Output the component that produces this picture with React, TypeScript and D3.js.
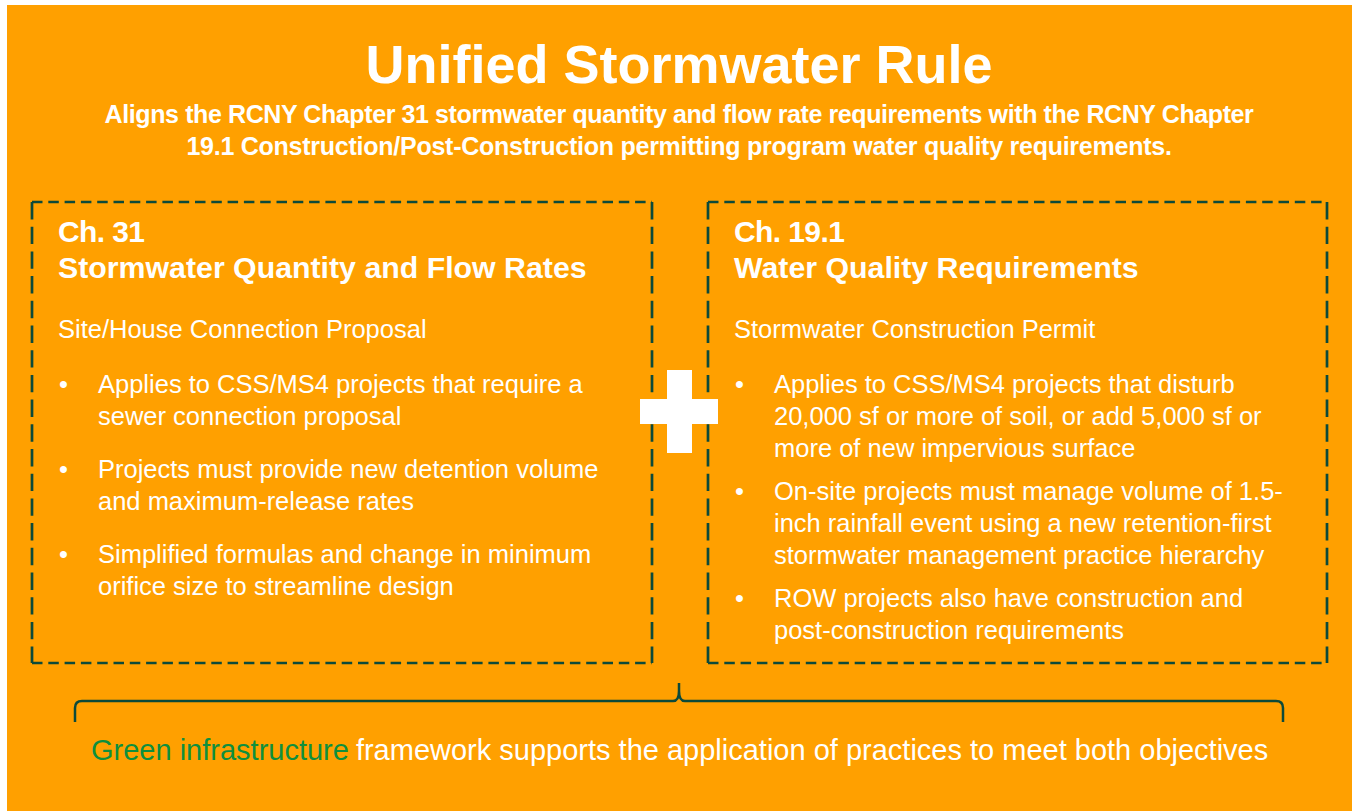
import React from "react";
import * as d3 from "d3";

// ---------- content ----------
const titleText = "Unified Stormwater Rule";
const subtitleLines = [
  "Aligns the RCNY Chapter 31 stormwater quantity and flow rate requirements with the RCNY Chapter",
  "19.1 Construction/Post-Construction permitting program water quality requirements.",
];
const leftHeading = ["Ch. 31", "Stormwater Quantity and Flow Rates"];
const leftSubhead = "Site/House Connection Proposal";
const leftBullets = [
  ["Applies to CSS/MS4 projects that require a", "sewer connection proposal"],
  ["Projects must provide new detention volume", "and maximum-release rates"],
  ["Simplified formulas and change in minimum", "orifice size to streamline design"],
];
const rightHeading = ["Ch. 19.1", "Water Quality Requirements"];
const rightSubhead = "Stormwater Construction Permit";
const rightBullets = [
  [
    "Applies to CSS/MS4 projects that disturb",
    "20,000 sf or more of soil, or add 5,000 sf or",
    "more of new impervious surface",
  ],
  [
    "On-site projects must manage volume of 1.5-",
    "inch rainfall event using a new retention-first",
    "stormwater management practice hierarchy",
  ],
  ["ROW projects also have construction and", "post-construction requirements"],
];
const footerGreen = "Green infrastructure";
const footerRest = "framework supports the application of practices to meet both objectives";

// ---------- styles ----------
const W = 1352;
const H = 811;
const ORANGE = "#FFA000";
const DARK = "#0C4A3A";
const GREEN = "#0E8F3E";
const FONT = "'Liberation Sans', Arial, Helvetica, sans-serif";

type BoxProps = {
  x0: number;
  x1: number;
  heading: string[];
  subhead: string;
  bullets: string[][];
  paraGap: number;
};

const BOX_Y0 = 202;
const BOX_Y1 = 663;
const LINE_H = 32;
const H_DASH = "10.5 5.8";
const V_DASH = "17.4 7.3";
const SW = 2.7;

function Box({ x0, x1, heading, subhead, bullets, paraGap }: BoxProps) {
  const tx = x0 + 26;
  let y = 393;
  const items: React.ReactNode[] = [];
  bullets.forEach((lines, bi) => {
    items.push(
      <text key={"b" + bi} x={tx + 1} y={y} fontSize={25.5} fill="#fff">
        •
      </text>
    );
    lines.forEach((ln, li) => {
      items.push(
        <text key={`l${bi}-${li}`} x={tx + 40} y={y + li * LINE_H} fontSize={25.5} fill="#fff">
          {ln}
        </text>
      );
    });
    y += lines.length * LINE_H + paraGap;
  });
  return (
    <g fontFamily={FONT}>
      <g fill="none" stroke={DARK} strokeWidth={SW}>
        <line x1={x0} y1={BOX_Y0} x2={x1} y2={BOX_Y0} strokeDasharray={H_DASH} />
        <line x1={x0} y1={BOX_Y1} x2={x1} y2={BOX_Y1} strokeDasharray={H_DASH} />
        <line x1={x0} y1={BOX_Y0} x2={x0} y2={BOX_Y1} strokeDasharray={V_DASH} />
        <line x1={x1} y1={BOX_Y0} x2={x1} y2={BOX_Y1} strokeDasharray={V_DASH} />
      </g>
      <text x={tx} y={242} fontSize={30} fontWeight="bold" fill="#fff" letterSpacing={-0.6}>
        {heading[0]}
      </text>
      <text x={tx} y={278} fontSize={30.3} fontWeight="bold" fill="#fff" letterSpacing={0}>
        {heading[1]}
      </text>
      <text x={tx} y={338} fontSize={25.5} fill="#fff">
        {subhead}
      </text>
      {items}
    </g>
  );
}

export default function App() {
  const cx = 679;
  const braceY = 701;
  const braceL = 75;
  const braceR = 1283;
  const braceBottom = 722;
  const braceTop = 683;
  const p = d3.path();
  p.moveTo(braceL, braceBottom);
  p.lineTo(braceL, braceY + 7);
  p.quadraticCurveTo(braceL, braceY, braceL + 7, braceY);
  p.lineTo(cx - 6, braceY);
  p.quadraticCurveTo(cx, braceY, cx, braceY - 10);
  p.lineTo(cx, braceTop);
  p.moveTo(cx, braceY - 10);
  p.quadraticCurveTo(cx, braceY, cx + 6, braceY);
  p.lineTo(braceR - 7, braceY);
  p.quadraticCurveTo(braceR, braceY, braceR, braceY + 7);
  p.lineTo(braceR, braceBottom);

  return (
    <svg
      width={W}
      height={H}
      style={{ position: "absolute", left: 0, top: 0, display: "block" }}
      xmlns="http://www.w3.org/2000/svg"
    >
      <rect x={0} y={0} width={W} height={H} fill="#fff" />
      <rect x={7} y={5} width={W - 7} height={H - 5} fill={ORANGE} />
      <g fontFamily={FONT} textAnchor="middle" fill="#fff" fontWeight="bold">
        <text x={cx} y={83} fontSize={54} letterSpacing={0}>
          {titleText}
        </text>
        <text x={cx} y={123} fontSize={25} letterSpacing={-0.4}>
          {subtitleLines[0]}
        </text>
        <text x={cx} y={155} fontSize={25} letterSpacing={-0.25}>
          {subtitleLines[1]}
        </text>
      </g>
      <Box x0={32} x1={652} heading={leftHeading} subhead={leftSubhead} bullets={leftBullets} paraGap={21} />
      <Box x0={708} x1={1327} heading={rightHeading} subhead={rightSubhead} bullets={rightBullets} paraGap={11} />
      {/* plus sign */}
      <rect x={640} y={399} width={78} height={25} fill="#fff" />
      <rect x={667} y={370} width={25} height={83} fill="#fff" />
      {/* brace */}
      <path d={p.toString()} fill="none" stroke={DARK} strokeWidth={2.5} />
      <text x={91} y={760} fontFamily={FONT} fontSize={29} fill={GREEN}>
        <tspan>{footerGreen}</tspan>
        <tspan fill="#fff" dx={7}>{footerRest}</tspan>
      </text>
    </svg>
  );
}
